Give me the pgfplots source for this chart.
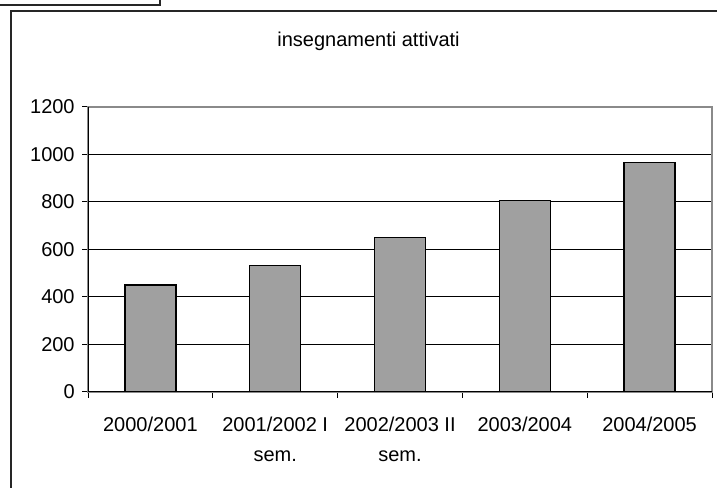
\documentclass[border=0pt]{standalone}
\usepackage{pgfplots}
\pgfplotsset{compat=1.18}
\usepackage{fontspec}
\setmainfont{Liberation Sans}
\definecolor{barfill}{HTML}{A0A0A0}
\definecolor{borderg}{HTML}{8A8A8A}
\begin{document}
\begin{tikzpicture}
\useasboundingbox (0,0) rectangle (537.75pt,366pt);
% chart frame, cropped on the right and at the bottom
\draw[line width=1.1pt, black!85] (8.25pt,-20pt) rectangle (560pt,357.75pt);
% corner of the object above
\draw[line width=0.9pt, black!85] (-5pt,362.25pt) -- (120pt,362.25pt) -- (120pt,372pt);
\node[anchor=base, font=\fontsize{15}{18}\selectfont] at (276.4pt,331pt) {insegnamenti attivati};
\begin{axis}[
  at={(66pt,72pt)}, anchor=south west,
  width=468pt, height=213.75pt, scale only axis,
  xmin=-0.5, xmax=4.5, ymin=0, ymax=1200,
  ytick={0,200,...,1200},
  xtick={0,...,4},
  xticklabels={2000/2001, {2001/2002 I\\sem.}, {2002/2003 II\\sem.}, 2003/2004, 2004/2005},
  minor xtick={-0.5,0.5,...,4.5},
  tick align=outside, major tick length=4.5pt, minor tick length=4.5pt,
  major x tick style={draw=none},
  xtick pos=left, ytick pos=left,
  ymajorgrids, major grid style={black, line width=0.75pt},
  axis line style={borderg, line width=0.9pt},
  tick style={black, line width=0.75pt},
  /pgf/number format/assume math mode=true,
  /pgf/number format/1000 sep={},
  ticklabel style={font=\fontsize{15}{22.5}\selectfont},
  x tick label style={align=center, yshift=-11pt},
  y tick label style={xshift=-2pt},
]
\addplot[ybar, bar width=38.25pt, fill=barfill, draw=black, line width=1pt] coordinates {
  (0,450) (1,532) (2,650) (3,805) (4,967)
};
\draw[borderg, line width=0.9pt] (rel axis cs:0,1) -- (rel axis cs:1,1);
\draw[black, line width=0.9pt] (rel axis cs:0,1) -- (rel axis cs:0,0) -- (rel axis cs:1,0);
\end{axis}
\end{tikzpicture}
\end{document}
